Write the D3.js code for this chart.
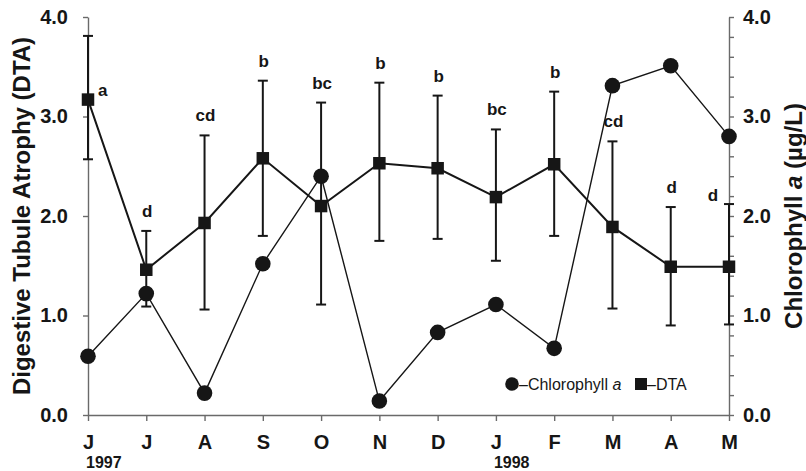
<!DOCTYPE html>
<html>
<head>
<meta charset="utf-8">
<script src="https://cdn.jsdelivr.net/npm/d3@7/dist/d3.min.js"></script>
<style>
  html, body { margin: 0; padding: 0; background: #fff; }
  svg { display: block; }
</style>
</head>
<body>
<svg id="chart" width="806" height="471"></svg>
<script>
// ---- data ----
const months = ["J", "J", "A", "S", "O", "N", "D", "J", "F", "M", "A", "M"];
const years = [{ index: 0, label: "1997" }, { index: 7, label: "1998" }];
const dtaMean  = [3.17, 1.46, 1.93, 2.58, 2.10, 2.53, 2.48, 2.19, 2.52, 1.89, 1.49, 1.49];
const dtaUpper = [3.81, 1.85, 2.81, 3.36, 3.14, 3.34, 3.21, 2.87, 3.25, 2.75, 2.09, 2.12];
const dtaLower = [2.57, 1.09, 1.06, 1.80, 1.11, 1.75, 1.77, 1.55, 1.80, 1.07, 0.90, 0.91];
const chlA     = [0.59, 1.22, 0.22, 1.52, 2.40, 0.14, 0.83, 1.11, 0.67, 3.31, 3.51, 2.80];
const sigLetters = ["a", "d", "cd", "b", "bc", "b", "b", "bc", "b", "cd", "d", "d"];
const leftTicks = [0, 1, 2, 3, 4];
const rightMajorTicks = [0, 1, 2, 3, 4];
const rightMinorStep = 0.2;

// ---- layout ----
const svg = d3.select("#chart");
const pLeft = 88, pRight = 729, pTop = 17, pBottom = 415;
const ink = "#161616";
const axisCol = "#6a6a6a";
const narrow = "'Liberation Sans Narrow', 'Arial Narrow', 'Liberation Sans', Arial, sans-serif";
const sans = "'Liberation Sans', Arial, Helvetica, sans-serif";

const idx = d3.range(months.length);
const x = d3.scaleLinear().domain([0, months.length - 1]).range([pLeft, pRight]);
const yL = d3.scaleLinear().domain([0, 4]).range([pBottom, pTop]);
const yR = d3.scaleLinear().domain([0, 4]).range([pBottom, pTop]);

// ---- axes ----
const fmt = d3.format(".1f");
const gL = svg.append("g").attr("transform", `translate(${pLeft},0)`)
  .call(d3.axisLeft(yL).tickValues(leftTicks).tickFormat(fmt).tickSize(5).tickSizeOuter(0).tickPadding(15));
const rightTickVals = d3.range(0, 4 + 1e-9, rightMinorStep).map(v => +v.toFixed(1));
const gR = svg.append("g").attr("transform", `translate(${pRight},0)`)
  .call(d3.axisRight(yR).tickValues(rightTickVals)
    .tickFormat(v => rightMajorTicks.includes(v) ? fmt(v) : "")
    .tickSize(5).tickSizeOuter(0).tickPadding(9));
const gB = svg.append("g").attr("transform", `translate(0,${pBottom})`)
  .call(d3.axisBottom(x).tickValues(idx).tickFormat(i => months[i]).tickSize(6).tickSizeOuter(0).tickPadding(14));

[gL, gR, gB].forEach(g => {
  g.select(".domain").attr("stroke", axisCol).attr("stroke-width", 1.4);
  g.selectAll(".tick line").attr("stroke", axisCol).attr("stroke-width", 1.4);
  g.selectAll(".tick text").attr("fill", ink).attr("font-family", narrow)
    .attr("font-weight", "bold").attr("font-size", 20);
});
gB.selectAll(".tick text").attr("font-size", 20).attr("dy", "0.71em");

// year labels
svg.append("g").selectAll("text").data(years).join("text")
  .attr("x", d => x(d.index) - 2)
  .attr("y", 467.5)
  .attr("font-family", narrow).attr("font-weight", "bold").attr("font-size", 16)
  .attr("fill", ink)
  .text(d => d.label);

// axis titles
svg.append("text")
  .attr("transform", `translate(30,${(pTop + pBottom) / 2}) rotate(-90)`)
  .attr("text-anchor", "middle")
  .attr("font-family", sans).attr("font-weight", "bold").attr("font-size", 24)
  .attr("fill", ink)
  .text("Digestive Tubule Atrophy (DTA)");

const rt = svg.append("text")
  .attr("transform", `translate(802,${(pTop + pBottom) / 2}) rotate(-90)`)
  .attr("text-anchor", "middle")
  .attr("font-family", sans).attr("font-weight", "bold").attr("font-size", 24)
  .attr("fill", ink);
rt.append("tspan").text("Chlorophyll ");
rt.append("tspan").attr("font-style", "italic").text("a");
rt.append("tspan").text(" (\u00b5g/L)");

// ---- chlorophyll line ----
const chlLine = d3.line().x((d, i) => x(i)).y(d => yR(d));
svg.append("path").datum(chlA)
  .attr("d", chlLine).attr("fill", "none").attr("stroke", ink).attr("stroke-width", 1.4);

// ---- DTA line ----
const dtaLine = d3.line().x((d, i) => x(i)).y(d => yL(d));
svg.append("path").datum(dtaMean)
  .attr("d", dtaLine).attr("fill", "none").attr("stroke", ink).attr("stroke-width", 2);

// ---- error bars ----
const capW = 5;
const eb = svg.append("g").attr("stroke", ink).attr("stroke-width", 2);
idx.forEach(i => {
  eb.append("line").attr("x1", x(i)).attr("x2", x(i)).attr("y1", yL(dtaUpper[i])).attr("y2", yL(dtaLower[i]));
  eb.append("line").attr("x1", x(i) - capW).attr("x2", x(i) + capW).attr("y1", yL(dtaUpper[i])).attr("y2", yL(dtaUpper[i]));
  eb.append("line").attr("x1", x(i) - capW).attr("x2", x(i) + capW).attr("y1", yL(dtaLower[i])).attr("y2", yL(dtaLower[i]));
});

// ---- markers ----
svg.append("g").selectAll("circle").data(chlA).join("circle")
  .attr("cx", (d, i) => x(i)).attr("cy", d => yR(d)).attr("r", 7.8).attr("fill", ink);

const sq = 12.5;
svg.append("g").selectAll("rect").data(dtaMean).join("rect")
  .attr("x", (d, i) => x(i) - sq / 2).attr("y", d => yL(d) - sq / 2)
  .attr("width", sq).attr("height", sq).attr("fill", ink);

// ---- significance letters ----
const last = sigLetters.length - 1;
svg.append("g").selectAll("text").data(sigLetters).join("text")
  .attr("x", (d, i) => i === 0 ? x(i) + 10 : i === last ? x(i) - 16 : x(i) + 1)
  .attr("y", (d, i) => i === 0 ? yL(dtaMean[i]) - 4 : i === last ? yL(dtaUpper[i]) - 3 : yL(dtaUpper[i]) - 14)
  .attr("text-anchor", (d, i) => i === 0 ? "start" : "middle")
  .attr("font-family", sans).attr("font-weight", "bold").attr("font-size", 17)
  .attr("fill", ink)
  .text(d => d);

// ---- legend ----
const lg = svg.append("g");
lg.append("circle").attr("cx", 512).attr("cy", 384).attr("r", 6.8).attr("fill", ink);
const lt1 = lg.append("text").attr("x", 519).attr("y", 390)
  .attr("font-family", sans).attr("font-size", 16).attr("fill", ink);
lt1.append("tspan").text("\u2013Chlorophyll ");
lt1.append("tspan").attr("font-style", "italic").text("a");
lg.append("rect").attr("x", 635).attr("y", 378).attr("width", 12).attr("height", 12).attr("fill", ink);
lg.append("text").attr("x", 647).attr("y", 390)
  .attr("font-family", sans).attr("font-size", 16).attr("fill", ink)
  .text("\u2013DTA");
</script>
</body>
</html>
